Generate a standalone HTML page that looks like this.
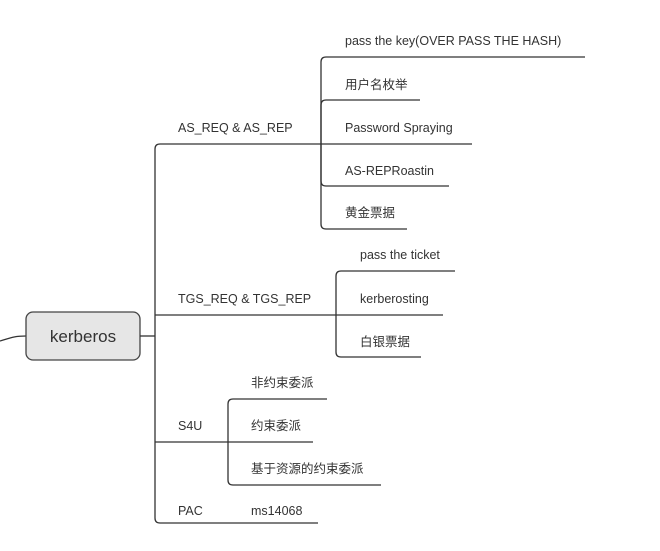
<!DOCTYPE html>
<html><head><meta charset="utf-8"><style>
body{margin:0;width:660px;height:546px;background:#fff;overflow:hidden}
svg text{font-family:"Liberation Sans","Noto Sans CJK SC",sans-serif;font-size:12.5px;fill:#333}
</style></head><body>
<svg width="660" height="546" viewBox="0 0 660 546" fill="none" stroke="#333" stroke-width="1.3">
<path d="M0 341 C10 338 14 336 26 336"/>
<rect x="26" y="312" width="114" height="48" rx="7" fill="#e6e6e6" stroke="#444"/>
<text x="83" y="342" text-anchor="middle" style="font-size:17px" stroke="none">kerberos</text>
<path d="M140 336 H155"/>
<!-- main trunk -->
<path d="M472 144 H160 Q155 144 155 149 V518 Q155 523 160 523 H318" />
<path d="M155 315 H443"/>
<path d="M155 442 H313"/>
<!-- AS children -->
<path d="M585 57 H326 Q321 57 321 62 V224 Q321 229 326 229 H407"/>
<path d="M420 100 H326 Q321 100 321 105 V181 Q321 186 326 186 H449"/>
<!-- TGS -->
<path d="M455 271 H341 Q336 271 336 276 V352 Q336 357 341 357 H421"/>
<!-- S4U -->
<path d="M327 399 H233 Q228 399 228 404 V480 Q228 485 233 485 H381"/>
<g stroke="none">
<text x="178" y="132">AS_REQ &amp; AS_REP</text>
<text x="345" y="45">pass the key(OVER PASS THE HASH)</text>
<text x="345" y="89">用户名枚举</text>
<text x="345" y="132">Password Spraying</text>
<text x="345" y="175">AS-REPRoastin</text>
<text x="345" y="217">黄金票据</text>
<text x="178" y="303">TGS_REQ &amp; TGS_REP</text>
<text x="360" y="259">pass the ticket</text>
<text x="360" y="303">kerberosting</text>
<text x="360" y="346">白银票据</text>
<text x="178" y="430">S4U</text>
<text x="251" y="387">非约束委派</text>
<text x="251" y="430">约束委派</text>
<text x="251" y="473">基于资源的约束委派</text>
<text x="178" y="515">PAC</text>
<text x="251" y="515">ms14068</text>
</g>
</svg>
</body></html>
